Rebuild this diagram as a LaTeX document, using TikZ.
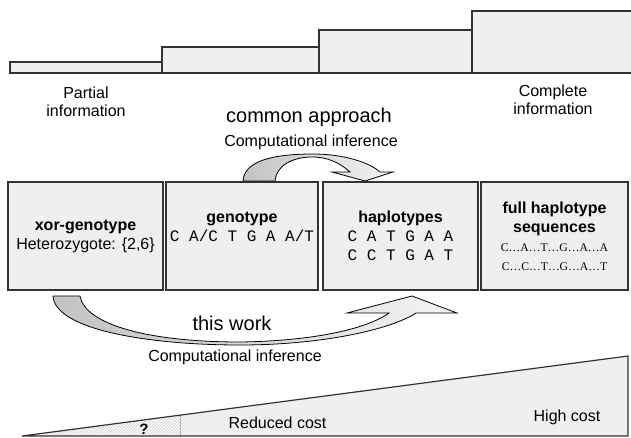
\documentclass[tikz,border=0pt]{standalone}
\usepackage{fontspec}
\setmainfont{Liberation Sans}
\setmonofont{Liberation Mono}
\newfontfamily\seqfont{Liberation Serif}
\usetikzlibrary{patterns}

\tikzstyle{info-box}=[draw=box-edge, fill=box-fill, line width=1.5pt, minimum height=108pt, inner sep=0pt, align=center, font=\fontsize{16}{19}\selectfont]
\tikzstyle{info-bar}=[draw=box-edge, fill=box-fill, line width=1.3pt]
\tikzstyle{fat-arrow}=[draw=black, line width=0.8pt, left color=arrow-dark, right color=arrow-light]
\tikzstyle{plain-label}=[inner sep=0pt, align=center, font=\fontsize{16}{18.5}\selectfont]
\definecolor{box-fill}{HTML}{EFEFEF}
\definecolor{box-edge}{HTML}{333333}
\definecolor{arrow-dark}{HTML}{C2C2C2}
\definecolor{arrow-light}{HTML}{F4F4F4}
\newcommand{\seqtext}[1]{{\seqfont\fontsize{11.7}{20}\selectfont #1}}

\begin{document}
\begin{tikzpicture}[x=1pt, y=-1pt]
      \useasboundingbox (0,0) rectangle (631,437);

      \draw[info-bar] (10,73) rectangle (162,62);
      \draw[info-bar] (162,73) rectangle (319,47);
      \draw[info-bar] (319,73) rectangle (472,30);
      \draw[info-bar] (472,73) rectangle (634,11);

      \node (partial-label) at (86,102) [plain-label] {Partial\\information};
      \node (complete-label) at (553,100) [plain-label] {Complete\\information};
      \node (common-label) at (309,117) [plain-label, font=\fontsize{20}{24}\selectfont] {common approach};
      \node (top-infer-label) at (311,142) [plain-label] {Computational inference};

      \node (xor-box) at (85.5,236) [info-box, minimum width=155pt] {\textbf{xor-genotype}\\Heterozygote: \{2,6\}};
      \node (geno-box) at (242,236) [info-box, minimum width=152pt] {\textbf{genotype}\\\texttt{C A/C T G A A/T}\\\mbox{}};
      \node (haplo-box) at (400.5,236) [info-box, minimum width=155pt] {\textbf{haplotypes}\\\texttt{C A T G A A}\\\texttt{C C T G A T}};
      \node (full-box) at (554.5,236) [info-box, minimum width=147pt] {\textbf{full haplotype}\\\textbf{sequences}\\\seqtext{C…A…T…G…A…A}\\\seqtext{C…C…T…G…A…T}};

      \draw[fat-arrow] (243,181) .. controls (244,162) and (270,154) .. (313,154)
            .. controls (345,154) and (370,163) .. (380,172) -- (393,172) -- (365,181) -- (332,172) -- (350,172)
            .. controls (340,163) and (328,157) .. (312,157) .. controls (292,157) and (276,166) .. (275,181) -- cycle;
      \draw[fat-arrow] (53,296) -- (80,296) .. controls (85,325) and (150,342) .. (240,342)
            .. controls (310,341) and (365,330) .. (389,313) -- (347,313) -- (412,296) -- (457,313) -- (416,313)
            .. controls (390,330) and (320,345) .. (240,345) .. controls (150,345) and (55,330) .. (53,296) -- cycle;

      \node (work-label) at (232,323) [plain-label, font=\fontsize{20}{24}\selectfont] {this work};
      \node (bottom-infer-label) at (235,357) [plain-label] {Computational inference};

      \fill[box-fill] (180,415) -- (628,356) -- (628,436) -- (180,436) -- cycle;
      \fill[pattern=north east lines, pattern color=gray!45] (22,436) -- (180,415) -- (180,436) -- cycle;
      \draw[gray!60, line width=0.6pt] (180,415) -- (180,436);
      \draw[box-edge, line width=1.2pt] (22,436) -- (628,356) -- (628,436) -- cycle;

      \node (unknown-label) at (144,429) [plain-label, font=\bfseries\fontsize{15}{17}\selectfont] {?};
      \node (reduced-label) at (277.5,423) [plain-label] {Reduced cost};
      \node (high-label) at (567,417) [plain-label] {High cost};
    \end{tikzpicture}
\end{document}
